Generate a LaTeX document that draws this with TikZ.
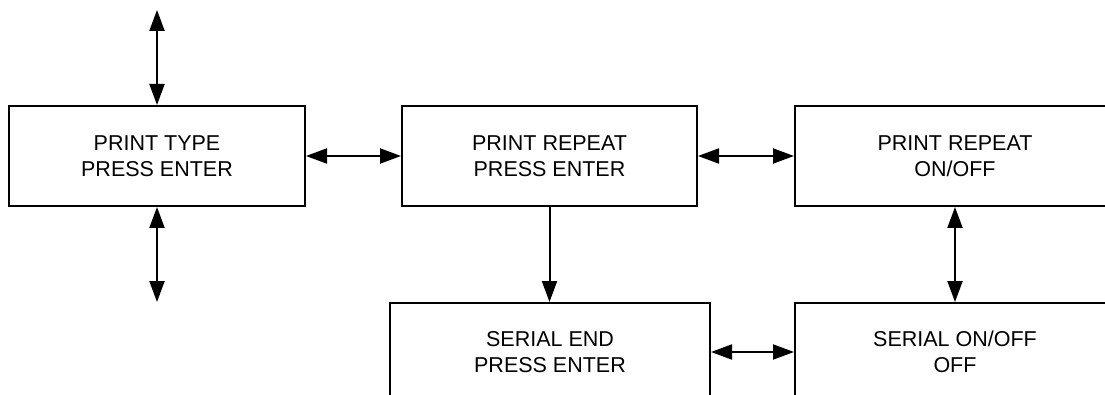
\documentclass[tikz,border=0pt]{standalone}
\usepackage{fontspec}
\setmainfont{Liberation Sans}
\usetikzlibrary{arrows.meta}
\tikzset{
  menubox/.style={draw=black, line width=2pt, rectangle, align=center,
    inner sep=0pt, font=\fontsize{21.5}{26}\selectfont, text=black},
  conn/.style={line width=2pt, -{Triangle[length=21pt,width=15pt]}},
  biconn/.style={line width=2pt, {Triangle[length=21pt,width=15pt]}-{Triangle[length=21pt,width=15pt]}}
}
\begin{document}
\begin{tikzpicture}[x=1pt,y=-1pt]
\useasboundingbox (0,0) rectangle (1105,395);
\fill[white] (0,0) rectangle (1105,395);
\clip (0,0) rectangle (1105,395);
\node[menubox, minimum width=296pt, minimum height=100pt] (pt) at (157,156) {PRINT TYPE\\PRESS ENTER};
\node[menubox, minimum width=295pt, minimum height=100pt] (pr) at (549.5,156) {PRINT REPEAT\\PRESS ENTER};
\node[menubox, minimum width=320pt, minimum height=100pt] (pro) at (955,156) {PRINT REPEAT\\ON/OFF};
\node[menubox, minimum width=320pt, minimum height=98pt] (se) at (550,352) {SERIAL END\\PRESS ENTER};
\node[menubox, minimum width=320pt, minimum height=98pt] (so) at (955,352) {SERIAL ON/OFF\\OFF};
\coordinate (top) at (157,10);
\coordinate (bot) at (157,302);
\draw[biconn] (top) -- (pt.north);
\draw[biconn] (pt.south) -- (bot);
\draw[biconn] (pt.east) -- (pr.west);
\draw[biconn] (pr.east) -- (pro.west);
\draw[conn] (pr.south) -- (pr.south |- se.north);
\draw[biconn] (pro.south) -- (so.north);
\draw[biconn] (se.east) -- (so.west);
\end{tikzpicture}
\end{document}
